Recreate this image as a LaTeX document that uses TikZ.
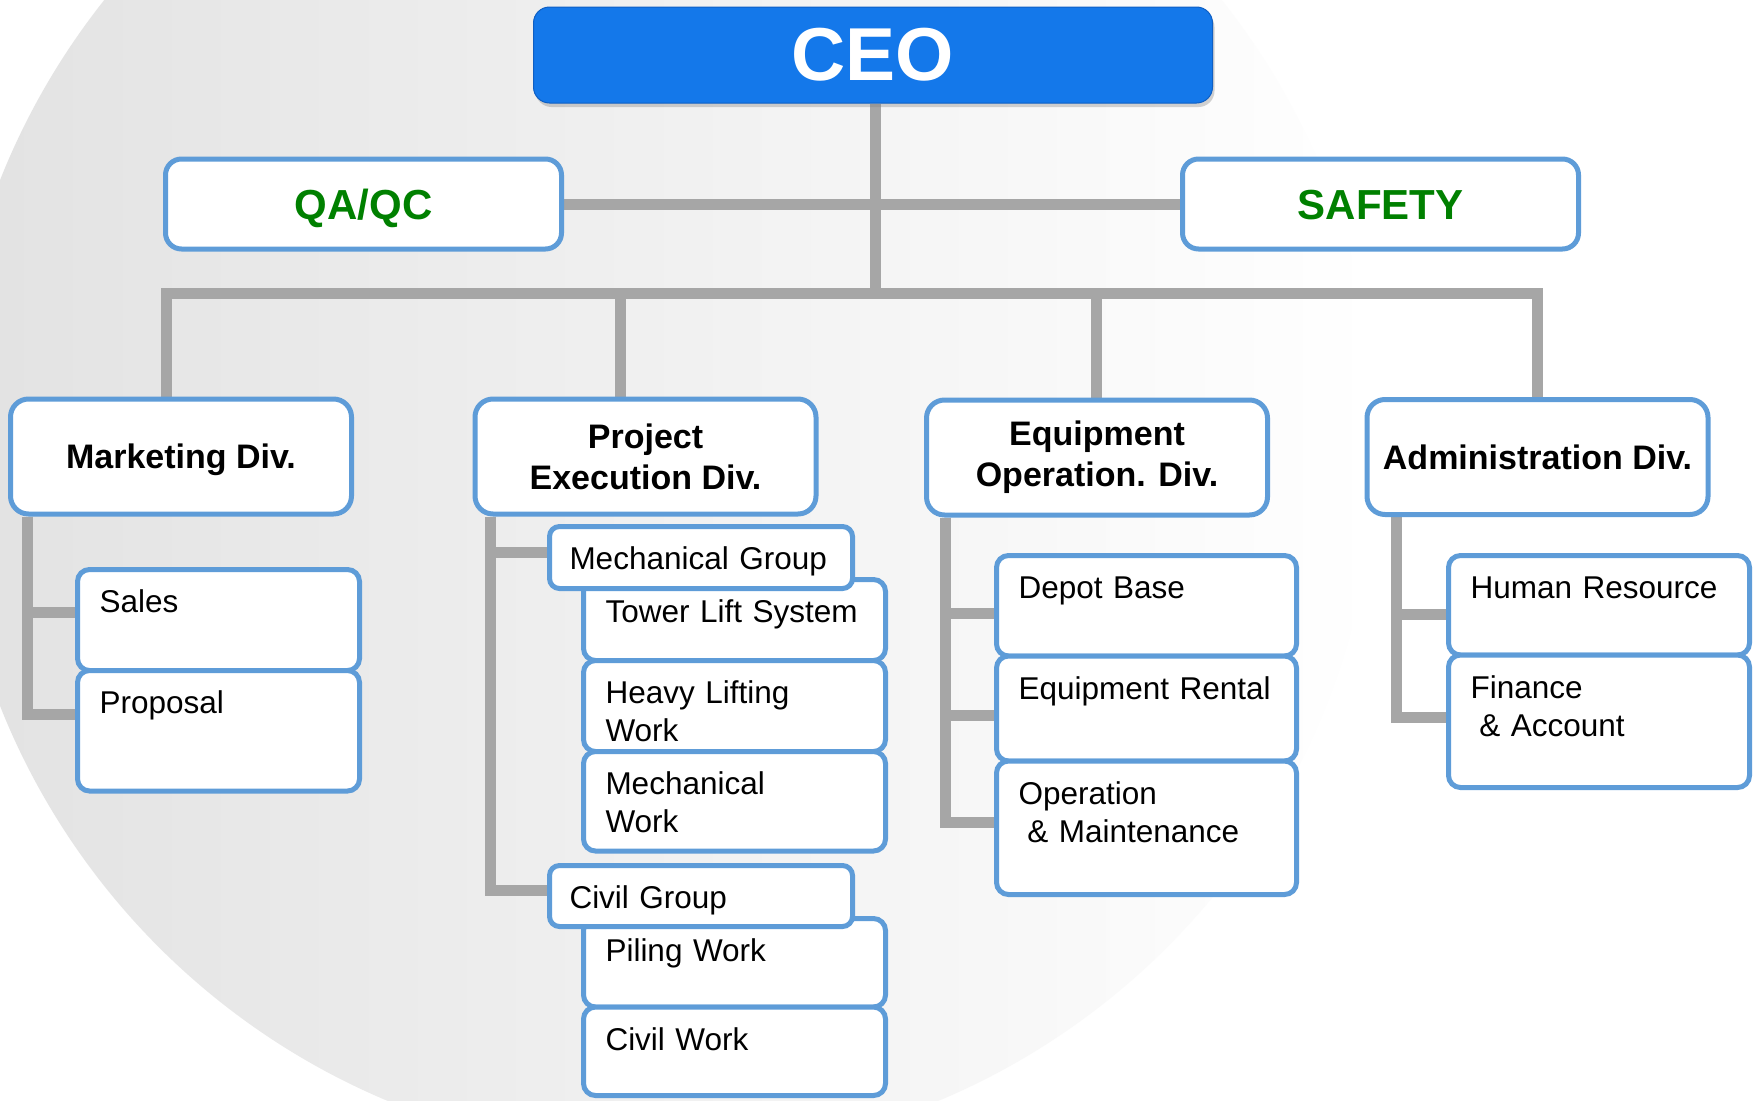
\documentclass[tikz,border=0pt]{standalone}
\usepackage{fontspec}
\setmainfont{Liberation Sans}
\usetikzlibrary{positioning, shadows}

\definecolor{ceoblue}{HTML}{1478EA}
\definecolor{ceoedge}{HTML}{0E5FC4}
\definecolor{boxblue}{HTML}{5E9CD8}
\definecolor{linkgray}{HTML}{A6A6A6}
\definecolor{staffgreen}{HTML}{008000}
\definecolor{bgleft}{HTML}{E2E2E2}
\definecolor{bgmid}{HTML}{E9E9E9}

\pgfdeclarelayer{back}
\pgfsetlayers{back,main}

\tikzstyle{ceobox} = [draw=ceoedge, line width=1pt, fill=ceoblue, rounded corners=16pt,
  minimum width=679pt, minimum height=96pt, text=white,
  font=\fontsize{75}{90}\selectfont\bfseries,
  drop shadow={opacity=.35, shadow xshift=2pt, shadow yshift=-4pt}]
\tikzstyle{staffbox} = [draw=boxblue, line width=5pt, fill=white, rounded corners=16pt,
  minimum width=396pt, minimum height=90pt, text=staffgreen, text height=30pt, text depth=0pt,
  font=\fontsize{42}{50}\selectfont\bfseries]
\tikzstyle{divbox} = [draw=boxblue, line width=5pt, fill=white, rounded corners=18pt,
  minimum width=341pt, minimum height=115pt, align=center,
  font=\fontsize{34}{41}\selectfont\bfseries]
\tikzstyle{unitbox} = [draw=boxblue, line width=5pt, fill=white, rounded corners=12pt,
  outer sep=0pt, anchor=north west, align=left, inner ysep=0pt, inner xsep=22pt,
  text width=257pt, text height=43pt, font=\fontsize{31.5}{38}\selectfont]
\tikzstyle{grpbox} = [unitbox, rounded corners=10pt, inner xsep=20pt, text width=263pt]
\tikzstyle{linkline} = [draw=linkgray, line width=11pt]

\begin{document}
\begin{tikzpicture}[x=1pt,y=-1pt]
  \useasboundingbox (0,0) rectangle (1758,1100);
  \clip (0,0) rectangle (1758,1100);
  % backdrop disc
  \begin{pgfonlayer}{back}
    \fill[white] (0,0) rectangle (1758,1100);
    \shade[left color=bgleft, middle color=bgmid, right color=white] (663,443) circle (713);
  \end{pgfonlayer}

  % top of the chart
  \node[ceobox] (ceo) at (873,55) {CEO};
  \node[staffbox] (qaqc) at (363.5,204) {QA/QC};
  \node[staffbox] (safety) at (1380.5,204) {SAFETY};

  % divisions
  \node[divbox, text depth=0pt] (mkt) at (181,456.5) {Marketing Div.};
  \node[divbox] (pex) at (645.5,456.5) {Project\\Execution Div.};
  \node[divbox] (eqp) at (1097,457.5) {Equipment\\Operation. Div.};
  \node[divbox] (adm) at (1537.5,457) {Administration Div.};

  % marketing
  \node[unitbox, text width=238pt, text depth=58pt] (sales) at (77.5,569.5) {Sales};
  \node[unitbox, text width=238pt, text depth=77.5pt, below=0pt of sales] (proposal) {Proposal};

  % project execution
  \node[unitbox, text width=258pt, text depth=38pt] (tower) at (583.5,579.5) {Tower Lift System};
  \node[unitbox, text width=258pt, text depth=48pt, below=0pt of tower] (heavy) {Heavy Lifting\\Work};
  \node[unitbox, text width=258pt, text depth=56.5pt, below=0pt of heavy] (mechwork) {Mechanical\\Work};
  \node[grpbox, text depth=19pt] (mechgrp) at (549.5,526.5) {Mechanical Group};
  \node[unitbox, text width=258pt, text depth=45.5pt] (piling) at (583.5,918.5) {Piling Work};
  \node[unitbox, text width=258pt, text depth=45.5pt, below=0pt of piling] (civwork) {Civil Work};
  \node[grpbox, text depth=18pt] (civgrp) at (549.5,865.5) {Civil Group};

  % equipment operation
  \node[unitbox, text width=256pt, text depth=57.5pt] (depot) at (996.5,555.5) {Depot Base};
  \node[unitbox, text width=256pt, text depth=62pt, below=0pt of depot] (rental) {Equipment Rental};
  \node[unitbox, text width=256pt, text depth=90.5pt, below=0pt of rental] (opmaint) {Operation\\\hspace*{.28em}\& Maintenance};

  % administration
  \node[unitbox, text width=257pt, text depth=56.5pt] (hr) at (1448.5,555.5) {Human Resource};
  \node[unitbox, text width=257pt, text depth=89.5pt, below=0pt of hr] (finance) {Finance\\\hspace*{.28em}\& Account};

  % connectors
  \coordinate (trunk) at (875,293);
  \coordinate (busl) at (166,293);
  \coordinate (pexdrop) at (620,293);
  \coordinate (eqpdrop) at (1096,293);
  \coordinate (busr) at (1537.5,293);
  \coordinate (mktbar) at (27,0);
  \coordinate (pexbar) at (490.5,0);
  \coordinate (eqpbar) at (945,0);
  \coordinate (admbar) at (1396.5,0);
  \begin{pgfonlayer}{back}
    \draw[linkline] (trunk |- ceo.south) -- (trunk);
    \draw[linkline] (qaqc.east) -- (safety.west);
    \draw[linkline] (busl |- mkt.north) -- (busl) -- (busr) -- (busr |- adm.north);
    \draw[linkline] (pexdrop) -- (pexdrop |- pex.north);
    \draw[linkline] (eqpdrop) -- (eqpdrop |- eqp.north);
    \draw[linkline] (mktbar |- mkt.south) |- ([yshift=-43pt]sales.north west);
    \draw[linkline] (mktbar |- mkt.south) |- ([yshift=-44pt]proposal.north west);
    \draw[linkline] (pexbar |- pex.south) |- ([yshift=-26pt]mechgrp.north west);
    \draw[linkline] (pexbar |- pex.south) |- ([yshift=-25pt]civgrp.north west);
    \draw[linkline] (eqpbar |- eqp.south) |- ([yshift=-58pt]depot.north west);
    \draw[linkline] (eqpbar |- eqp.south) |- ([yshift=-59.5pt]rental.north west);
    \draw[linkline] (eqpbar |- eqp.south) |- ([yshift=-61.5pt]opmaint.north west);
    \draw[linkline] (admbar |- adm.south) |- ([yshift=-59pt]hr.north west);
    \draw[linkline] (admbar |- adm.south) |- ([yshift=-62.5pt]finance.north west);
  \end{pgfonlayer}
\end{tikzpicture}
\end{document}
